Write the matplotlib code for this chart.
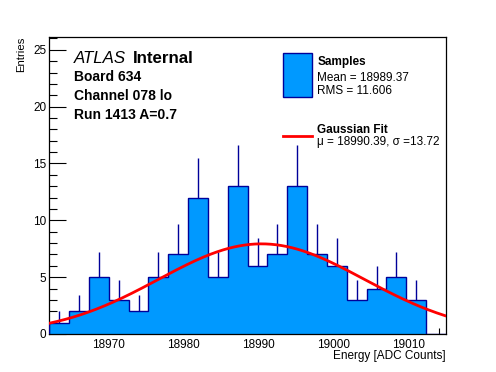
import matplotlib

matplotlib.use("Agg")

import matplotlib.pyplot as plt
import numpy as np
from matplotlib.patches import Rectangle
from matplotlib.lines import Line2D

# histogram: 20 equal bins over the axis range
x_lo, x_hi = 18962.1, 19015.0
counts = [1, 2, 5, 3, 2, 5, 7, 12, 5, 13, 6, 7, 13, 7, 6, 3, 4, 5, 3, 0]

# gaussian fit parameters (as quoted in the legend, amplitude)
fit_mu = 18990.39
fit_sigma = 13.72
fit_amp = 7.93

x_ticks = [18970, 18980, 18990, 19000, 19010]
y_ticks = [0, 5, 10, 15, 20, 25]
y_max = 26.1

header = ["Board 634", "Channel 078 lo", "Run 1413 A=0.7"]
samples_stats = ["Mean = 18989.37", "RMS = 11.606"]
fit_stats = "\u03bc = 18990.39, \u03c3 =13.72"

FILL = "#0099ff"
EDGE = "#000099"

plt.rcParams["font.family"] = ["Liberation Sans", "DejaVu Sans"]

W, H = 496, 372
fig = plt.figure(figsize=(W / 100, H / 100), dpi=100)
ax = fig.add_axes([49.3 / W, 1 - 334 / H, (446 - 49.3) / W, (334 - 37.3) / H])


def px(x, y):
    # pixel position from top-left -> figure fraction
    return x / W, 1 - y / H


edges = np.linspace(x_lo, x_hi, len(counts) + 1)
counts_arr = np.array(counts, dtype=float)
centers = 0.5 * (edges[:-1] + edges[1:])

ax.stairs(counts_arr, edges, fill=True, facecolor=FILL, edgecolor="none", zorder=2)
ax.stairs(counts_arr, edges, baseline=0, fill=False, edgecolor=EDGE, linewidth=1.0, zorder=3)
has = counts_arr > 0
ax.vlines(centers[has], counts_arr[has], counts_arr[has] + np.sqrt(counts_arr[has]),
          color=EDGE, linewidth=1.0, zorder=3)

xs = np.linspace(x_lo, x_hi, 300)
ax.plot(xs, fit_amp * np.exp(-0.5 * ((xs - fit_mu) / fit_sigma) ** 2),
        color="red", linewidth=2.0, zorder=4)

ax.set_xlim(x_lo, x_hi)
ax.set_ylim(0, y_max)
ax.set_xticks(x_ticks)
ax.set_xticks(np.arange(18964, 19015, 2), minor=True)
ax.set_yticks(y_ticks)
ax.set_yticks(np.arange(0, 26.5, 1), minor=True)
ax.tick_params(which="both", direction="in", top=False, right=False, labelsize=8.5, width=0.8)
ax.tick_params(axis="x", which="major", length=8.5, pad=3.5)
ax.tick_params(axis="x", which="minor", length=4.5)
ax.tick_params(axis="y", which="major", length=12, pad=2)
ax.tick_params(axis="y", which="minor", length=6)
for s in ax.spines.values():
    s.set_linewidth(0.9)

fig.text(*px(446, 359), "Energy [ADC Counts]", ha="right", va="baseline", fontsize=8.5)
fig.text(*px(21, 37), "Entries", rotation=90, ha="center", va="top", fontsize=8.2)

# ATLAS label block
t = fig.text(*px(74, 63.3), "ATLAS", style="italic", fontsize=12.2, va="baseline")
fig.text(*px(132.5, 63.3), "Internal", weight="bold", fontsize=12.2, va="baseline")
for line, yb in zip(header, [81, 100, 119]):
    fig.text(*px(74, yb), line, weight="bold", fontsize=10, va="baseline")

# legend drawn by hand, no frame
fig.add_artist(Rectangle(px(283.3, 96.7), 28.4 / W, 43.4 / H, transform=fig.transFigure,
                         facecolor=FILL, edgecolor=EDGE, linewidth=1.0))
fig.text(*px(317.3, 65), "Samples", weight="bold", fontsize=8.5, va="baseline")
fig.text(*px(317.3, 80.7), samples_stats[0], fontsize=8.5, va="baseline")
fig.text(*px(317.3, 94), samples_stats[1], fontsize=8.5, va="baseline")
fig.add_artist(Line2D([283.3 / W, 311.7 / W], [1 - 136 / H] * 2, transform=fig.transFigure,
                      color="red", linewidth=2.0))
fig.text(*px(317.3, 132.7), "Gaussian Fit", weight="bold", fontsize=8.5, va="baseline")
fig.text(*px(317.3, 145), fit_stats, fontsize=8.5, va="baseline")

fig.savefig("out.png", dpi=100, facecolor="white")
